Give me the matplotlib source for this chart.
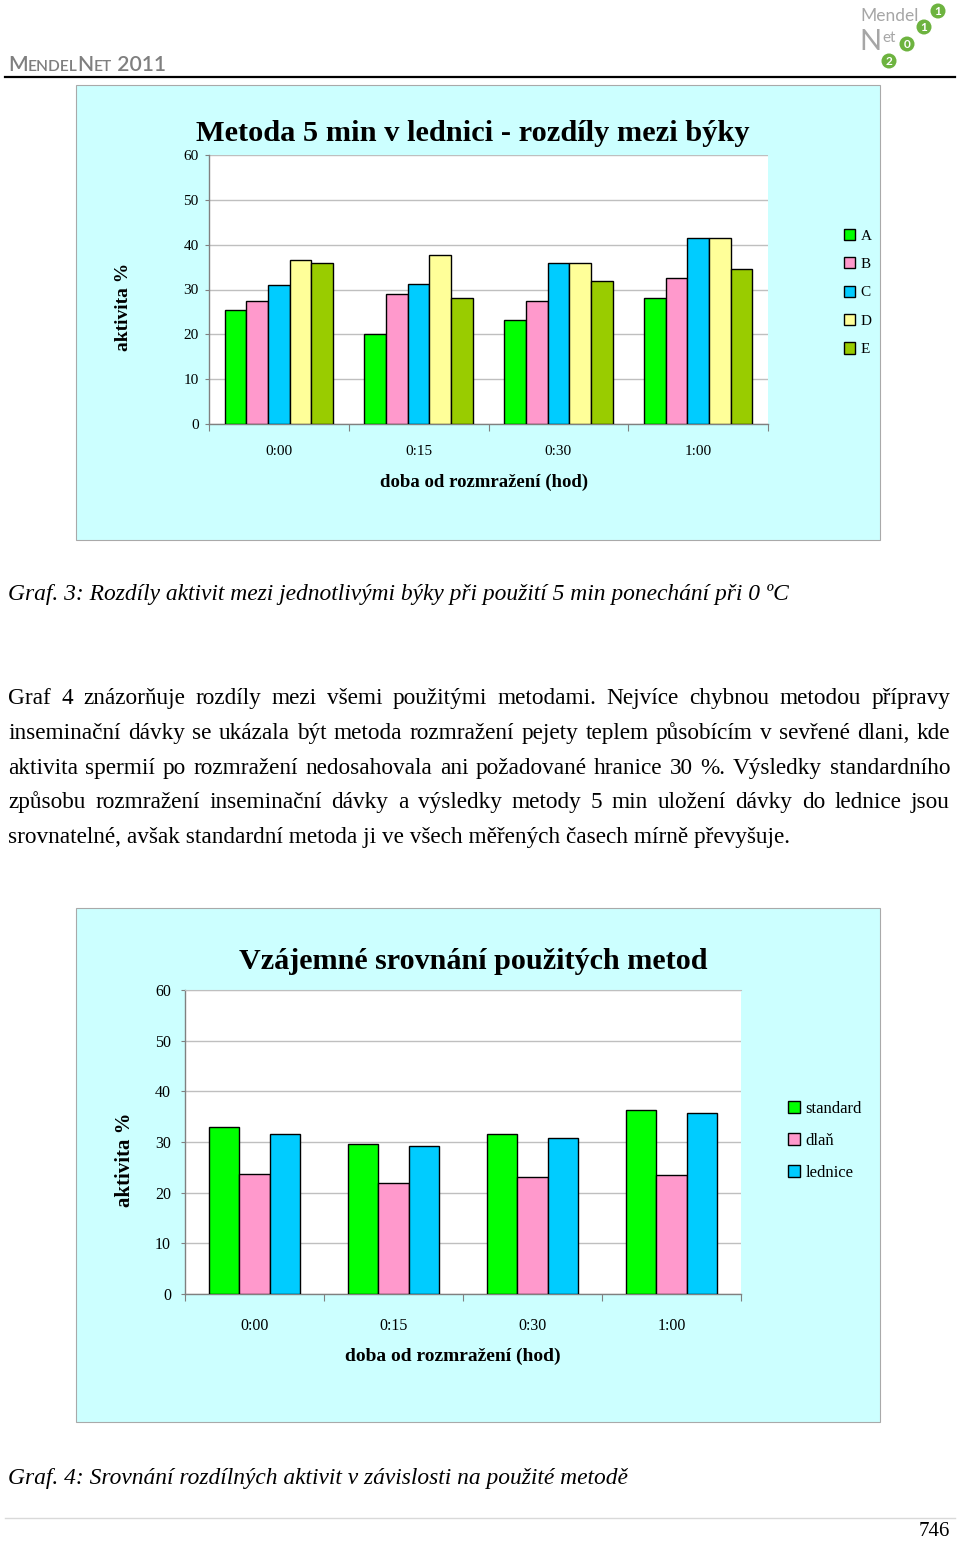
import numpy as np
import matplotlib
matplotlib.use("Agg")
import matplotlib.pyplot as plt
from matplotlib.patches import Rectangle, Circle

W_PX, H_PX = 960, 1541
SERIF = "Liberation Serif"

# ---------------- data: Graf 3 (býci A-E) ----------------
times = ["0:00", "0:15", "0:30", "1:00"]
bulls = ["A", "B", "C", "D", "E"]
bull_colors = ["#00FF00", "#FF99CC", "#00CCFF", "#FFFF99", "#99CC00"]
akt_A = [25.5, 20.1, 23.1, 28.0]
akt_B = [27.4, 28.9, 27.4, 32.6]
akt_C = [31.1, 31.3, 36.0, 41.5]
akt_D = [36.6, 37.6, 36.0, 41.5]
akt_E = [36.0, 28.0, 31.9, 34.6]

# ---------------- data: Graf 4 (metody) ----------------
methods = ["standard", "dlaň", "lednice"]
method_colors = ["#00FF00", "#FF99CC", "#00CCFF"]
akt_standard = [33.0, 29.6, 31.5, 36.4]
akt_dlan = [23.7, 21.9, 23.0, 23.4]
akt_lednice = [31.5, 29.3, 30.8, 35.8]

yticks = [0, 10, 20, 30, 40, 50, 60]

title3 = "Metoda 5 min v lednici - rozdíly mezi býky"
title4 = "Vzájemné srovnání použitých metod"
xlab = "doba od rozmražení (hod)"
ylab = "aktivita %"
caption3 = "Graf. 3: Rozdíly aktivit mezi jednotlivými býky při použití 5 min ponechání při 0 ºC"
caption4 = "Graf. 4: Srovnání rozdílných aktivit v závislosti na použité metodě"
para = [
    "Graf 4 znázorňuje rozdíly mezi všemi použitými metodami. Nejvíce chybnou metodou přípravy",
    "inseminační dávky se ukázala být metoda rozmražení pejety teplem působícím v sevřené dlani, kde",
    "aktivita spermií po rozmražení nedosahovala ani požadované hranice 30 %. Výsledky standardního",
    "způsobu rozmražení inseminační dávky a výsledky metody 5 min uložení dávky do lednice jsou",
    "srovnatelné, avšak standardní metoda ji ve všech měřených časech mírně převyšuje.",
]


def fbox(x0, y0, x1, y1):
    # pixel box (top-left origin) -> figure fraction
    return [x0 / W_PX, 1 - y1 / H_PX, (x1 - x0) / W_PX, (y1 - y0) / H_PX]


fig = plt.figure(figsize=(W_PX / 100, H_PX / 100), dpi=100)
fig.patch.set_facecolor("white")

# page layer in pixel coordinates
page = fig.add_axes([0, 0, 1, 1], zorder=0)
page.set_xlim(0, W_PX)
page.set_ylim(H_PX, 0)
page.axis("off")
r = fig.canvas.get_renderer()


def width(t):
    return t.get_window_extent(r).width


def fit(t, target):
    t.set_fontsize(t.get_fontsize() * target / width(t))
    return t


# ---------------- header ----------------
page.plot([5, 955], [77, 77], color="black", lw=1.6)
hdr = [("M", 17), ("ENDEL", 12.5), ("N", 17), ("ET", 12.5), (" 2011", 17)]
ht = [page.text(0, 71, s, fontsize=sz, family="Lato", color="#7F7F7F",
                weight="semibold", va="baseline") for s, sz in hdr]
tot = sum(width(t) for t in ht)
k = 158 / tot
x = 8
for t in ht:
    t.set_fontsize(t.get_fontsize() * k)
    t.set_x(x)
    x += width(t)

# logo
logo_gray = "#A6A6A6"
logo_green = "#6DB33F"
fit(page.text(860, 21, "Mendel", fontsize=14, family="Lato", color=logo_gray,
              va="baseline"), 58)
tN = page.text(859, 50, "N", fontsize=21, family="Lato", color=logo_gray,
               va="baseline")
page.text(859 + width(tN) + 1, 42, "et", fontsize=11, family="Lato",
          color=logo_gray, va="baseline")
for (cx, cy, d) in [(938, 11, "1"), (924, 27, "1"), (907, 44, "0"), (889, 61, "2")]:
    page.add_patch(Circle((cx, cy), 7.5, fc=logo_green, ec="none"))
    page.text(cx, cy + 0.5, d, fontsize=8.5, family="Lato", weight="bold",
              color="white", ha="center", va="center")

# ---------------- panels ----------------
panel_bg = "#CCFFFF"
page.add_patch(Rectangle((76, 85), 804, 455, fc=panel_bg, ec="#A9A9A9", lw=0.8))
page.add_patch(Rectangle((76, 908), 804, 514, fc=panel_bg, ec="#A9A9A9", lw=0.8))


def style_axes(ax, ylen_pad, xlab_pad, fs):
    ax.set_facecolor("white")
    ax.set_xlim(-0.5, 3.5)
    ax.set_ylim(0, 60)
    ax.set_yticks(yticks)
    ax.grid(axis="y", color="#BFBFBF", lw=1.0)
    ax.set_axisbelow(True)
    for s in ["top", "right"]:
        ax.spines[s].set_visible(False)
    for s in ["left", "bottom"]:
        ax.spines[s].set_color("#808080")
        ax.spines[s].set_linewidth(1.0)
    ax.set_xticks(np.arange(-0.5, 4.0, 1.0))
    ax.set_xticklabels([])
    ax.set_xticks(np.arange(4), minor=True)
    ax.set_xticklabels(times, minor=True)
    ax.tick_params(axis="x", which="major", length=5, color="#808080", direction="out")
    ax.tick_params(axis="x", which="minor", length=0, pad=xlab_pad, labelsize=fs)
    ax.tick_params(axis="y", length=3, color="#808080", pad=ylen_pad, labelsize=fs)
    for lab in ax.get_xticklabels(minor=True) + ax.get_yticklabels():
        lab.set_family(SERIF)


# ---------------- Graf 3 ----------------
ax1 = fig.add_axes(fbox(209, 155, 768, 424), zorder=2)
series3 = [akt_A, akt_B, akt_C, akt_D, akt_E]
x = np.arange(len(times))
bw = 0.155
for i, (vals, name, col) in enumerate(zip(series3, bulls, bull_colors)):
    ax1.bar(x + (i - 2) * bw, vals, bw, color=col, edgecolor="black", lw=1.0,
            label=name, zorder=3)
style_axes(ax1, 4.5, 15, 11)

fit(page.text(473, 133, title3, fontsize=19, family=SERIF, weight="bold",
              ha="center", va="center"), 554)
page.text(124, 307, ylab, fontsize=14, family=SERIF, weight="bold",
          rotation=90, ha="center", va="center")
page.text(484, 482, xlab, fontsize=13.5, family=SERIF, weight="bold",
          ha="center", va="center")
ax1.legend(loc="center left", bbox_to_anchor=(844, 292.5),
           bbox_transform=page.transData, frameon=False,
           prop={"family": SERIF, "size": 11}, handlelength=0.75,
           handleheight=0.75, handletextpad=0.35, labelspacing=0.95,
           borderpad=0, borderaxespad=0)

# ---------------- text between charts ----------------
fit(page.text(8, 600, caption3, fontsize=15, family=SERIF, style="italic",
              va="baseline"), 783)

probe = page.text(8, 843, para[-1], fontsize=15, family=SERIF, va="baseline")
fit(probe, 789)
psize = probe.get_fontsize()
base_y = [704, 739, 774, 808, 843]
for line, by in zip(para[:-1], base_y[:-1]):
    words = line.split()
    ts = [page.text(0, by, w, fontsize=psize, family=SERIF, va="baseline")
          for w in words]
    ws = [width(t) for t in ts]
    gap = (950 - 8 - sum(ws)) / (len(words) - 1)
    xx = 8
    for t, w in zip(ts, ws):
        t.set_x(xx)
        xx += w + gap

# ---------------- Graf 4 ----------------
ax2 = fig.add_axes(fbox(185, 990, 741, 1294), zorder=2)
series4 = [akt_standard, akt_dlan, akt_lednice]
bw2 = 0.22
for i, (vals, name, col) in enumerate(zip(series4, methods, method_colors)):
    ax2.bar(x + (i - 1) * bw2, vals, bw2, color=col, edgecolor="black", lw=1.0,
            label=name, zorder=3)
style_axes(ax2, 7, 17, 11.5)
ax2.spines["top"].set_visible(True)
ax2.spines["top"].set_color("#BFBFBF")

fit(page.text(473, 961, title4, fontsize=26, family=SERIF, weight="bold",
              ha="center", va="center"), 470)
page.text(125, 1160, ylab, fontsize=15, family=SERIF, weight="bold",
          rotation=90, ha="center", va="center")
page.text(453, 1356, xlab, fontsize=14, family=SERIF, weight="bold",
          ha="center", va="center")
ax2.legend(loc="center left", bbox_to_anchor=(788, 1141),
           bbox_transform=page.transData, frameon=False,
           prop={"family": SERIF, "size": 12}, handlelength=0.7,
           handleheight=0.7, handletextpad=0.35, labelspacing=0.95,
           borderpad=0, borderaxespad=0)

fit(page.text(8, 1484, caption4, fontsize=15, family=SERIF, style="italic",
              va="baseline"), 624)

# ---------------- footer ----------------
page.plot([5, 955], [1518, 1518], color="#D9D9D9", lw=1.0)
page.text(950, 1531, "746", fontsize=15, family=SERIF, ha="right", va="center")

fig.savefig("out.png", dpi=100, facecolor="white")
